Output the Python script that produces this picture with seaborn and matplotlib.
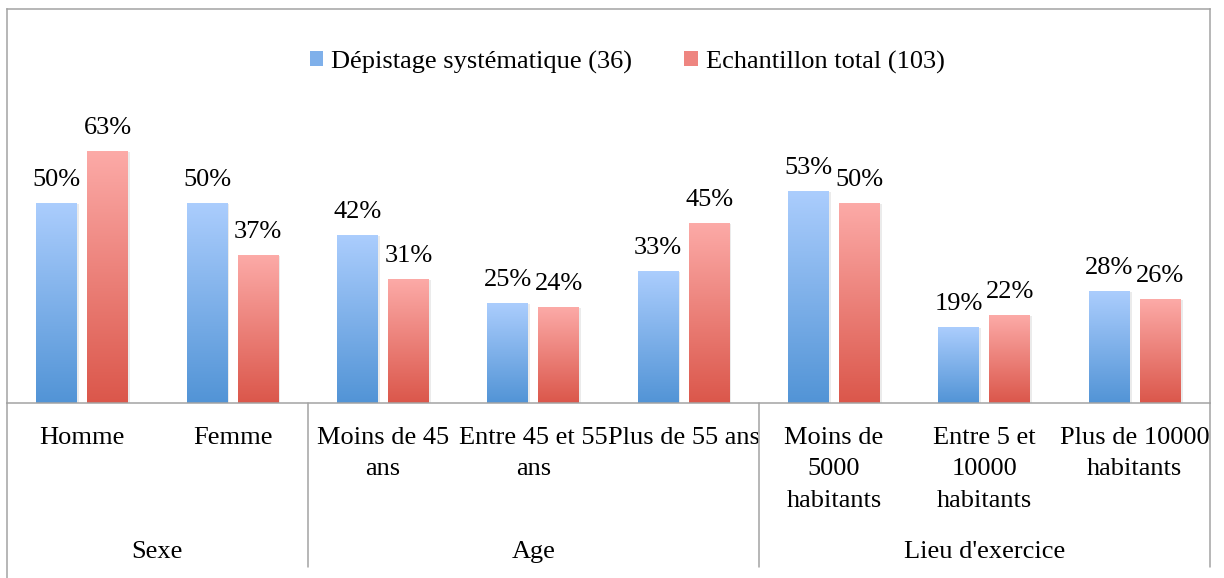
import numpy as np
import pandas as pd
import matplotlib
matplotlib.use("Agg")
import matplotlib.pyplot as plt
import matplotlib.transforms as mtransforms
from matplotlib.patches import Patch
import seaborn as sns

# Data
categories = ["Homme", "Femme", "Moins de 45\nans", "Entre 45 et 55\nans", "Plus de 55 ans",
              "Moins de\n5000\nhabitants", "Entre 5 et\n10000\nhabitants", "Plus de 10000\nhabitants"]
groups = ["Sexe", "Age", "Lieu d'exercice"]
group_sizes = [2, 3, 3]
series = ["Dépistage systématique (36)", "Echantillon total (103)"]
depistage = [50, 50, 42, 25, 33, 53, 19, 28]
total = [63, 37, 31, 24, 45, 50, 22, 26]

df = pd.DataFrame({
    "cat": categories * 2,
    "serie": [series[0]] * len(categories) + [series[1]] * len(categories),
    "val": depistage + total,
})

sns.set_theme(style="white")
plt.rcParams["font.family"] = ["Liberation Serif", "DejaVu Serif"]
plt.rcParams["text.color"] = "black"
plt.rcParams["xtick.color"] = "black"
plt.rcParams["xtick.labelcolor"] = "black"
FS = 19
GRID = "#A3A3A3"

fig = plt.figure(figsize=(12.24, 5.78), dpi=100)
W, H = 1224, 578
x0, x1, ytop, ybase = 7, 1210, 9, 403
ax = fig.add_axes([x0 / W, (H - ybase) / H, (x1 - x0) / W, (ybase - ytop) / H])

mid_colors = ["#7FB0EA", "#EE8580"]
sns.barplot(data=df, x="cat", y="val", hue="serie", order=categories, hue_order=series,
            palette=mid_colors, width=0.678, gap=0.196, legend=False, ax=ax)

# gradient fills (light top, darker bottom) + faint shadow on the right
grads = [("#ABCDFD", "#5294D6"), ("#FCAAA7", "#DB574B")]
shift = 0.012
for cont, (top, bot) in zip(ax.containers, grads):
    ct = np.array(matplotlib.colors.to_rgb(top))
    cb = np.array(matplotlib.colors.to_rgb(bot))
    t = np.linspace(0, 1, 128)[:, None]
    img = (ct * (1 - t) + cb * t)[:, None, :]
    for bar in cont:
        bx, by = bar.get_x(), bar.get_y()
        bw, bh = bar.get_width(), bar.get_height()
        ax.add_patch(plt.Rectangle((bx + shift, by), bw, bh - 0.3, color="#000000",
                                   alpha=0.08, lw=0, zorder=1.5))
        ax.imshow(img, extent=[bx, bx + bw, by, by + bh], aspect="auto", zorder=2,
                  interpolation="bilinear")
        bar.set_facecolor("none")
        bar.set_edgecolor("none")

for cont, vals in zip(ax.containers, [depistage, total]):
    ax.bar_label(cont, labels=[f"{v}%" for v in vals], padding=9, fontsize=FS, color="black")

ax.set_xlim(-0.5, len(categories) - 0.5)
ax.set_ylim(0, (ybase - ytop) / 4)
ax.set_yticks([])
ax.set_xlabel("")
ax.set_ylabel("")
ax.set_xticks(range(len(categories)))
ax.set_xticklabels(categories, fontsize=FS, linespacing=1.57, ha="center", multialignment="center",
                   color="black")
ax.tick_params(axis="x", length=0, pad=17)

for side in ["top", "left", "right", "bottom"]:
    ax.spines[side].set_color(GRID)
    ax.spines[side].set_linewidth(1.1)

# separators under the axis and group labels
trans = mtransforms.blended_transform_factory(ax.transData, ax.transAxes)
depth = (567 - ybase) / (ybase - ytop)
bounds = np.cumsum([0] + group_sizes) - 0.5
for i, b in enumerate(bounds):
    d = (H - ybase) / (ybase - ytop) if i == 0 else depth
    ax.plot([b, b], [0, -d], transform=trans, color=GRID, lw=1.1, clip_on=False)
ygrp = -(552 - ybase) / (ybase - ytop)
for g, a, b in zip(groups, bounds[:-1], bounds[1:]):
    ax.text((a + b) / 2, ygrp, g, transform=trans, ha="center", va="center", fontsize=FS,
            color="black")

handles = [Patch(facecolor=c, edgecolor="none") for c in mid_colors]
leg = fig.legend(handles, series, loc="center", bbox_to_anchor=(627 / W, 1 - 62 / H), ncol=2,
                 frameon=False, fontsize=FS, handlelength=0.5, handleheight=0.5,
                 handletextpad=0.3, columnspacing=2.0)
for txt in leg.get_texts():
    txt.set_color("black")

fig.savefig("out.png", dpi=100)
